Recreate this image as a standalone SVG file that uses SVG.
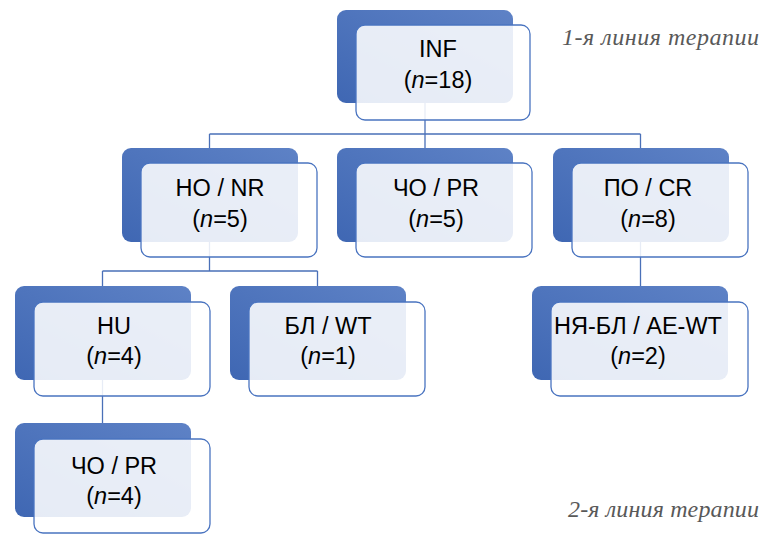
<svg xmlns="http://www.w3.org/2000/svg" width="771" height="535" viewBox="0 0 771 535">
<defs>
<linearGradient id="bk" x1="1" y1="0" x2="0" y2="1">
<stop offset="0" stop-color="#5e82c6"/>
<stop offset="1" stop-color="#3f67b3"/>
</linearGradient>
<style>
.back{fill:url(#bk);}
.front{fill:#ffffff;fill-opacity:0.87;stroke:#4a74c0;stroke-width:1.3;}
.conn{stroke:#4a70b8;stroke-width:1.3;fill:none;}
.t{font-family:"Liberation Sans",Arial,sans-serif;font-size:23.5px;fill:#000;text-anchor:middle;}
.lab{font-family:"Liberation Serif","Times New Roman",serif;font-style:italic;font-size:24px;fill:#595959;}
</style>
</defs>
<rect width="771" height="535" fill="#ffffff"/>
<g id="connectors">
<path class="conn" d="M425,103 V134 M209.5,134 H640.5 M209.5,134 V148 M425,134 V148 M640.5,134 V148"/>
<path class="conn" d="M209.5,242 V271 M102.5,271 H317.5 M102.5,271 V286 M317.5,271 V286"/>
<path class="conn" d="M640.5,242 V286"/>
<path class="conn" d="M102.5,380 V423"/>
</g>
<g id="inf">
<rect class="back" x="337" y="10" width="176" height="93" rx="9"/>
<rect class="front" x="356" y="25" width="174" height="95" rx="9"/>
<text class="t" x="438" y="57">INF</text>
<text class="t" x="438" y="88">(<tspan font-style="italic">n</tspan>=18)</text>
</g>
<g id="ho-nr">
<rect class="back" x="122" y="148" width="176" height="94" rx="9"/>
<rect class="front" x="141" y="163" width="176" height="94" rx="9"/>
<text class="t" x="220" y="196">НО / NR</text>
<text class="t" x="220" y="227">(<tspan font-style="italic">n</tspan>=5)</text>
</g>
<g id="cho-pr-1">
<rect class="back" x="337" y="148" width="176" height="94" rx="9"/>
<rect class="front" x="356" y="163" width="176" height="94" rx="9"/>
<text class="t" x="436" y="196">ЧО / PR</text>
<text class="t" x="436" y="227">(<tspan font-style="italic">n</tspan>=5)</text>
</g>
<g id="po-cr">
<rect class="back" x="553" y="148" width="176" height="94" rx="9"/>
<rect class="front" x="572" y="163" width="176" height="94" rx="9"/>
<text class="t" x="648" y="196">ПО / CR</text>
<text class="t" x="648" y="227">(<tspan font-style="italic">n</tspan>=8)</text>
</g>
<g id="hu">
<rect class="back" x="15" y="286" width="176" height="94" rx="9"/>
<rect class="front" x="34" y="302" width="176" height="94" rx="9"/>
<text class="t" x="114" y="334">HU</text>
<text class="t" x="114" y="364">(<tspan font-style="italic">n</tspan>=4)</text>
</g>
<g id="bl-wt">
<rect class="back" x="230" y="286" width="176" height="94" rx="9"/>
<rect class="front" x="249" y="302" width="176" height="94" rx="9"/>
<text class="t" x="328" y="334">БЛ / WT</text>
<text class="t" x="328" y="364">(<tspan font-style="italic">n</tspan>=1)</text>
</g>
<g id="nya-bl">
<rect class="back" x="532" y="286" width="196" height="94" rx="9"/>
<rect class="front" x="551" y="302" width="197" height="94" rx="9"/>
<text class="t" x="638" y="334">НЯ-БЛ / AE-WT</text>
<text class="t" x="638" y="364">(<tspan font-style="italic">n</tspan>=2)</text>
</g>
<g id="cho-pr-2">
<rect class="back" x="15" y="423" width="176" height="94" rx="9"/>
<rect class="front" x="34" y="439" width="176" height="94" rx="9"/>
<text class="t" x="114" y="474">ЧО / PR</text>
<text class="t" x="114" y="504">(<tspan font-style="italic">n</tspan>=4)</text>
</g>
<text class="lab" x="562" y="45" textLength="197">1-я линия терапии</text>
<text class="lab" x="568" y="517" textLength="191">2-я линия терапии</text>
</svg>
